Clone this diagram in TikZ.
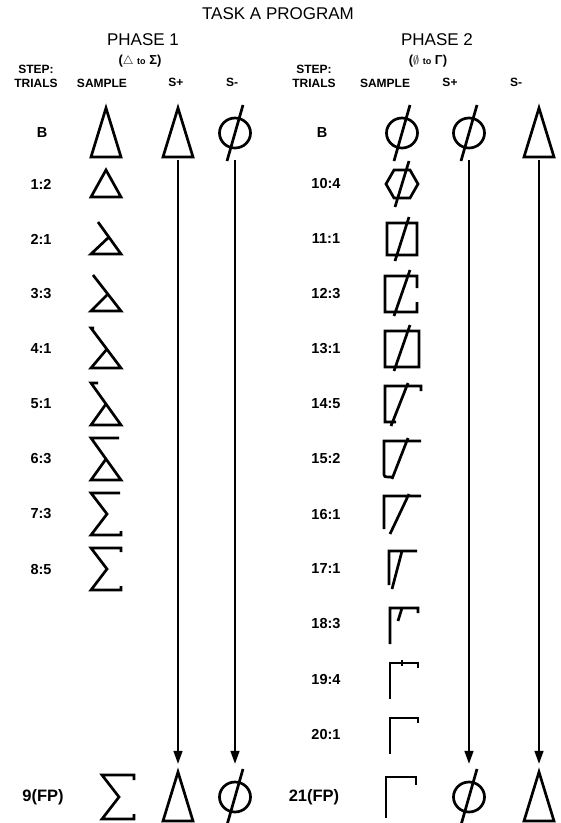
\documentclass[tikz,border=0pt]{standalone}
\usepackage{fontspec}
\setmainfont{Liberation Sans}
\usetikzlibrary{arrows.meta}

\tikzset{
  glyph/.style={line width=2.7pt, line join=miter},
  arr/.style={line width=1.6pt, -{Triangle[length=13pt,width=9pt]}, shorten >=6pt},
  slot/.style={minimum width=32pt, minimum height=54pt, inner sep=0pt},
  heading/.style={font=\fontsize{17}{19}\selectfont},
  colhead/.style={font=\bfseries\fontsize{12}{14}\selectfont, align=center},
  stepno/.style={font=\bfseries\fontsize{14.5}{15}\selectfont},
  bigno/.style={font=\bfseries\fontsize{16.5}{17}\selectfont},
  tallTri/.pic={\draw[glyph] (0,-25) -- (15,24) -- (-15,24) -- cycle;},
  slashO/.pic={\draw[glyph] (0,0) ellipse [x radius=15.5, y radius=15];
               \draw[glyph] (-8,28) -- (8,-28);},
}

\begin{document}
\begin{tikzpicture}[x=1pt, y=-1pt]
    \useasboundingbox (0,0) rectangle (561,823);

    % Titles
    \node[heading] (title) at (278,14) {TASK A PROGRAM};
    \node[heading] (ph1) at (143,40) {PHASE 1};
    \node[heading] (ph2) at (437,40) {PHASE 2};
    \node[font=\bfseries\fontsize{13}{14}\selectfont] (ph1sub) at (140,61) {($\bigtriangleup$ {\fontsize{9}{10}\selectfont to} Σ)};
    \node[font=\bfseries\fontsize{13}{14}\selectfont] (ph2sub) at (428,61) {($\emptyset$ {\fontsize{9}{10}\selectfont to} Γ)};

    % Column heads
    \node[colhead] (p1step) at (36,76) {STEP:\\TRIALS};
    \node[colhead] (p1samp) at (102,83) {SAMPLE};
    \node[colhead] (p1plus) at (176,82) {S+};
    \node[colhead] (p1minus) at (232,82) {S-};
    \node[colhead] (p2step) at (314,76) {STEP:\\TRIALS};
    \node[colhead] (p2samp) at (385,83) {SAMPLE};
    \node[colhead] (p2plus) at (450,82) {S+};
    \node[colhead] (p2minus) at (516,82) {S-};

    % Baseline row
    \node[stepno] (p1B) at (42,133) {B};
    \node[stepno] (p2B) at (322,133) {B};
    \node[slot] (p1sampB) at (106,133) {};
    \node[slot] (p1plusB) at (178,133) {};
    \node[slot] (p1minusB) at (235,133) {};
    \node[slot] (p2sampB) at (402,133) {};
    \node[slot] (p2plusB) at (469,133) {};
    \node[slot] (p2minusB) at (539,133) {};
    \pic at (p1sampB) {tallTri};
    \pic at (p1plusB) {tallTri};
    \pic at (p1minusB) {slashO};
    \pic at (p2sampB) {slashO};
    \pic at (p2plusB) {slashO};
    \pic at (p2minusB) {tallTri};

    % Step labels
    \foreach \lbl [count=\i] in {1:2,2:1,3:3,4:1,5:1,6:3,7:3,8:5}
        \node[stepno] (p1r\i) at (41,129+55*\i) {\lbl};
    \foreach \lbl [count=\i] in {10:4,11:1,12:3,13:1,14:5,15:2,16:1,17:1,18:3,19:4,20:1}
        \node[stepno] (p2r\i) at (326,129+55*\i) {\lbl};

    % Phase 1 samples: triangle fading into sigma
    \draw[glyph, shift={(106,184)}] (-15,13) -- (15,13) -- (0,-14) -- cycle;
    \draw[glyph, shift={(106,239)}] (-8,-17) -- (15,15) -- (-15,15) -- (3,-2);
    \draw[glyph, shift={(106,294)}] (-13,-19) -- (15,17) -- (-15,17) -- (2,0);
    \draw[glyph, shift={(106,349)}] (-12,-21) -- (-15,-21) -- (15,19) -- (-15,19) -- (1,0);
    \draw[glyph, shift={(106,404)}] (-8,-21) -- (-15,-21) -- (15,21) -- (-15,21) -- (0,0);
    \draw[glyph, shift={(106,459)}] (13,-21) -- (-15,-21) -- (15,21) -- (-15,21) -- (0,0);
    \draw[glyph, shift={(106,514)}] (14,-21) -- (-15,-21) -- (1,0) -- (-15,21) -- (15,21) -- (15,17);
    \draw[glyph, shift={(106,569)}] (15,-17) -- (15,-21) -- (-15,-21) -- (1,0) -- (-15,21) -- (15,21) -- (15,17);

    % Phase 2 samples: phi fading into gamma
    \draw[glyph, shift={(402,184)}] (-16,0) -- (-8,-14) -- (8,-14) -- (16,0) -- (8,14) -- (-8,14) -- cycle
        (-7,23) -- (7,-23);
    \draw[glyph, shift={(402,239)}] (-15,-16) rectangle (15,16) (-7,22) -- (7,-22);
    \draw[glyph, shift={(402,294)}] (15,-6) -- (15,-18) -- (-17,-18) -- (-17,18) -- (15,18) -- (15,8)
        (-8,22) -- (8,-24);
    \draw[glyph, shift={(402,349)}] (-17,-18) rectangle (17,18) (-8,22) -- (8,-24);
    \draw[glyph, shift={(402,404)}] (19,-13) -- (19,-18) -- (-17,-18) -- (-17,18) -- (-6,18)
        (-11,22) -- (6,-21);
    \draw[glyph, shift={(402,459)}] (19,-18) -- (-18,-18) -- (-18,14) .. controls (-18,18) .. (-10,18)
        (-10,20) -- (6,-21);
    \draw[glyph, shift={(402,514)}] (19,-18) -- (-18,-18) -- (-18,15) (-12,20) -- (7,-20);
    \draw[glyph, shift={(402,569)}] (15,-18) -- (-13,-18) -- (-13,16) (-10,20) -- (0,-18);
    \draw[glyph, shift={(402,624)}] (-12,20) -- (-12,-16) -- (16,-16) -- (16,-11) (-4,-3) -- (0,-16);
    \draw[glyph, shift={(402,679)}] (-12,20) -- (-12,-16) -- (16,-16) -- (16,-11) (0,-19) -- (0,-13);
    \draw[glyph, shift={(402,734)}] (-12,20) -- (-12,-16) -- (16,-16) -- (16,-11);

    % Final performance row
    \node[bigno] (p1FP) at (43,797) {9(FP)};
    \node[bigno] (p2FP) at (314,797) {21(FP)};
    \node[slot] (p1sampF) at (118,797) {};
    \node[slot] (p1plusF) at (178,797) {};
    \node[slot] (p1minusF) at (235,797) {};
    \node[slot] (p2sampF) at (400,797) {};
    \node[slot] (p2plusF) at (469,797) {};
    \node[slot] (p2minusF) at (539,797) {};
    \draw[glyph, shift={(p1sampF)}] (16,-17) -- (16,-22) -- (-16,-22) -- (1,0) -- (-16,22) -- (16,22) -- (16,17);
    \draw[glyph, shift={(p2sampF)}] (-14,21) -- (-14,-20) -- (16,-20) -- (16,-12);
    \pic at (p1plusF) {tallTri};
    \pic at (p1minusF) {slashO};
    \pic at (p2plusF) {slashO};
    \pic at (p2minusF) {tallTri};

    % Arrows down to final row
    \draw[arr] (p1plusB) -- (p1plusF);
    \draw[arr] (p1minusB) -- (p1minusF);
    \draw[arr] (p2plusB) -- (p2plusF);
    \draw[arr] (p2minusB) -- (p2minusF);
\end{tikzpicture}
\end{document}
